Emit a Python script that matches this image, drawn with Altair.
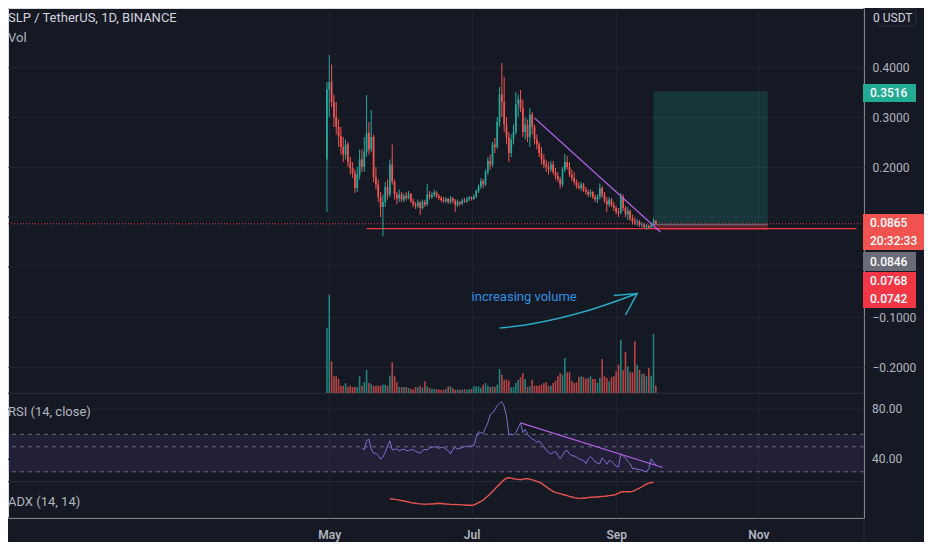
import altair as alt
import pandas as pd
from datetime import datetime, timedelta, timezone

# ---------------- data ----------------
first_day = "2021-04-30"

opens = [0.215, 0.355, 0.37, 0.33, 0.30, 0.28, 0.262, 0.24, 0.225, 0.245,
         0.21, 0.198, 0.188, 0.158, 0.185, 0.215, 0.20, 0.23, 0.268, 0.235,
         0.26, 0.18, 0.165, 0.14, 0.12, 0.13, 0.16, 0.145, 0.205, 0.17,
         0.145, 0.137, 0.145, 0.135, 0.142, 0.138, 0.146, 0.132, 0.125, 0.122,
         0.129, 0.118, 0.13, 0.125, 0.145, 0.14, 0.144, 0.149, 0.142, 0.138,
         0.134, 0.132, 0.136, 0.13, 0.137, 0.133, 0.124, 0.13, 0.127, 0.133,
         0.131, 0.136, 0.139, 0.136, 0.141, 0.152, 0.161, 0.172, 0.165, 0.19,
         0.212, 0.205, 0.245, 0.24, 0.29, 0.345, 0.33, 0.285, 0.26, 0.228,
         0.255, 0.27, 0.325, 0.335, 0.318, 0.27, 0.285, 0.26, 0.305, 0.28,
         0.255, 0.245, 0.228, 0.215, 0.205, 0.2, 0.195, 0.205, 0.19, 0.182,
         0.175, 0.165, 0.195, 0.21, 0.2, 0.185, 0.178, 0.17, 0.162, 0.158,
         0.165, 0.155, 0.15, 0.145, 0.15, 0.14, 0.135, 0.14, 0.158, 0.145,
         0.132, 0.125, 0.135, 0.124, 0.118, 0.11, 0.108, 0.14, 0.118, 0.105,
         0.112, 0.097, 0.092, 0.089, 0.091, 0.084, 0.085, 0.08, 0.082, 0.079,
         0.084, 0.092]
highs = [0.37, 0.424, 0.405, 0.345, 0.33, 0.295, 0.28, 0.26, 0.255, 0.25,
         0.22, 0.21, 0.195, 0.20, 0.235, 0.235, 0.26, 0.344, 0.29, 0.314,
         0.265, 0.20, 0.175, 0.15, 0.145, 0.17, 0.175, 0.215, 0.245, 0.175,
         0.15, 0.155, 0.15, 0.147, 0.15, 0.152, 0.148, 0.137, 0.13, 0.135,
         0.132, 0.135, 0.134, 0.166, 0.152, 0.15, 0.155, 0.152, 0.146, 0.142,
         0.14, 0.14, 0.138, 0.142, 0.14, 0.136, 0.135, 0.132, 0.137, 0.138,
         0.14, 0.142, 0.141, 0.145, 0.155, 0.165, 0.178, 0.176, 0.195, 0.22,
         0.225, 0.25, 0.258, 0.3, 0.36, 0.408, 0.38, 0.30, 0.27, 0.265,
         0.285, 0.35, 0.345, 0.354, 0.335, 0.3, 0.295, 0.318, 0.31, 0.285,
         0.265, 0.25, 0.24, 0.225, 0.215, 0.21, 0.212, 0.212, 0.198, 0.19,
         0.18, 0.2, 0.226, 0.222, 0.21, 0.195, 0.19, 0.175, 0.17, 0.17,
         0.168, 0.16, 0.155, 0.155, 0.152, 0.145, 0.145, 0.167, 0.162, 0.15,
         0.14, 0.14, 0.138, 0.13, 0.122, 0.118, 0.148, 0.145, 0.122, 0.12,
         0.115, 0.105, 0.1, 0.096, 0.094, 0.09, 0.088, 0.086, 0.085, 0.088,
         0.098, 0.094]
lows = [0.11, 0.30, 0.32, 0.28, 0.265, 0.24, 0.225, 0.21, 0.215, 0.20,
        0.185, 0.178, 0.148, 0.15, 0.175, 0.19, 0.19, 0.22, 0.225, 0.23,
        0.17, 0.155, 0.13, 0.10, 0.061, 0.12, 0.135, 0.14, 0.165, 0.135,
        0.125, 0.13, 0.13, 0.13, 0.133, 0.135, 0.128, 0.12, 0.116, 0.118,
        0.104, 0.115, 0.12, 0.122, 0.135, 0.136, 0.14, 0.138, 0.134, 0.13,
        0.128, 0.128, 0.126, 0.126, 0.128, 0.11, 0.12, 0.122, 0.124, 0.128,
        0.128, 0.132, 0.133, 0.134, 0.138, 0.148, 0.156, 0.158, 0.162, 0.185,
        0.195, 0.2, 0.228, 0.236, 0.28, 0.3, 0.27, 0.245, 0.21, 0.22,
        0.245, 0.265, 0.3, 0.31, 0.26, 0.255, 0.25, 0.24, 0.265, 0.245,
        0.235, 0.22, 0.205, 0.198, 0.19, 0.185, 0.19, 0.185, 0.175, 0.17,
        0.157, 0.16, 0.19, 0.195, 0.18, 0.172, 0.165, 0.157, 0.155, 0.152,
        0.15, 0.145, 0.14, 0.14, 0.136, 0.13, 0.128, 0.135, 0.138, 0.128,
        0.11, 0.12, 0.12, 0.112, 0.105, 0.1, 0.105, 0.112, 0.1, 0.094,
        0.092, 0.085, 0.084, 0.082, 0.08, 0.079, 0.077, 0.075, 0.076, 0.077,
        0.08, 0.084]
closes = [0.355, 0.37, 0.33, 0.30, 0.28, 0.262, 0.24, 0.225, 0.245, 0.21,
          0.198, 0.188, 0.158, 0.185, 0.215, 0.20, 0.23, 0.268, 0.235, 0.26,
          0.18, 0.165, 0.14, 0.12, 0.13, 0.16, 0.145, 0.205, 0.17, 0.145,
          0.137, 0.145, 0.135, 0.142, 0.138, 0.146, 0.132, 0.125, 0.122, 0.129,
          0.118, 0.13, 0.125, 0.145, 0.14, 0.144, 0.149, 0.142, 0.138, 0.134,
          0.132, 0.136, 0.13, 0.137, 0.133, 0.124, 0.13, 0.127, 0.133, 0.131,
          0.136, 0.139, 0.136, 0.141, 0.152, 0.161, 0.172, 0.165, 0.19, 0.212,
          0.205, 0.245, 0.24, 0.29, 0.345, 0.33, 0.285, 0.26, 0.228, 0.255,
          0.27, 0.325, 0.335, 0.318, 0.27, 0.285, 0.26, 0.305, 0.28, 0.255,
          0.245, 0.228, 0.215, 0.205, 0.2, 0.195, 0.205, 0.19, 0.182, 0.175,
          0.165, 0.195, 0.21, 0.2, 0.185, 0.178, 0.17, 0.162, 0.158, 0.165,
          0.155, 0.15, 0.145, 0.15, 0.14, 0.135, 0.14, 0.158, 0.145, 0.132,
          0.125, 0.135, 0.124, 0.118, 0.11, 0.108, 0.14, 0.118, 0.105, 0.112,
          0.097, 0.092, 0.089, 0.091, 0.084, 0.085, 0.08, 0.082, 0.079, 0.084,
          0.092, 0.0865]
volumes = [65, 98.3, 31.7, 16.7, 16.7, 14, 7.3, 7.3, 10, 6,
           7.3, 6, 6, 6, 16.7, 7.3, 10.7, 23.3, 10, 9,
           7.3, 7.3, 7.3, 7.3, 8.3, 8.3, 7.3, 17.3, 30.7, 16.7,
           10.7, 6, 6, 6, 6, 5, 4.3, 3.7, 6, 5.7,
           7.3, 5.3, 11.7, 6.7, 5, 4.3, 4, 4, 3.3, 3.3,
           3.3, 4, 6.7, 6.7, 4.7, 3.3, 3.3, 3.3, 3.3, 4,
           3.3, 4, 4, 6.7, 6.7, 6.7, 5.3, 8.3, 10, 7.3,
           6, 6.7, 6, 8.3, 24, 18.3, 13.3, 13.3, 12.3, 5.7,
           6, 10, 13.3, 16, 20, 14, 6, 6.7, 13.3, 7.3,
           7.3, 7.3, 8.3, 10, 10.7, 7.3, 7.3, 10, 12.3, 16.7,
           20, 18.3, 35, 20.7, 20.7, 12.3, 10, 10.7, 16, 16.7,
           16, 14, 15, 16.7, 14, 14, 10, 15, 34, 16.7,
           15, 11.7, 15.7, 16.7, 21.7, 28.3, 53.3, 22.7, 41, 26.7,
           20.7, 20.7, 51.7, 28.3, 23.3, 19.3, 19.3, 16.7, 25, 17.3,
           59, 7.3]

rsi_start = 15
rsi_values = [49, 47.5, 54.8, 56, 48.2, 44.8, 44.8, 43, 40, 41.7,
              45.6, 50.9, 54.8, 47.5, 48, 48.2, 46.9, 47.7, 48.2, 46.9,
              46.9, 47.7, 47.5, 46.4, 45.6, 44.8, 46.9, 48, 47.5, 49,
              49.5, 50.1, 49.5, 48.8, 49.5, 49.5, 48.2, 46.9, 44.3, 48.2,
              49.5, 48.2, 48.8, 49.5, 50.1, 50.4, 50.6, 50.6, 50.9, 57.4,
              62, 61.3, 60.5, 65.2, 69.1, 75.7, 77, 79.6, 83, 84.8,
              86.1, 82.2, 74.4, 59.5, 60, 59.5, 61.3, 65.2, 69.1, 61.3,
              63.9, 60, 57.9, 56.1, 55.3, 53.5, 54.8, 52.2, 50.1, 47.5,
              45.6, 44.3, 45.3, 46.4, 43, 40.4, 43, 46.4, 46.9, 44.3,
              43, 42.7, 41.7, 40.4, 39.6, 39.1, 36.5, 40.4, 42.2, 40.4,
              37.8, 37, 36.5, 41.2, 39.1, 36, 39.1, 38.3, 36.5, 34.5,
              33.9, 44, 43, 41, 38.5, 36.5, 32.6, 32.6, 32, 31.8,
              31.2, 30.5, 30, 32.6, 40.4, 37.8, 35.5]

adx_start = 27
adx_values = [23.4, 23.0, 22.5, 22.1, 21.6, 21.0, 20.5, 19.8, 19.1, 18.4,
              17.9, 17.5, 17.1, 16.8, 16.5, 16.3, 16.4, 16.6, 16.7, 17.0,
              17.3, 17.5, 17.2, 16.9, 16.7, 16.4, 16.1, 15.8, 15.9, 15.8,
              15.8, 15.5, 15.3, 15.0, 15.0, 15.0, 15.4, 16.7, 18.4, 20.0,
              21.7, 24.3, 26.8, 29.7, 32.6, 35.6, 38.9, 41.5, 44.8, 47.3,
              49.4, 49.9, 49.4, 48.6, 48.2, 47.8, 47.3, 48.2, 48.6, 48.6,
              48.2, 47.3, 46.5, 45.2, 44.4, 42.7, 40.6, 38.5, 36.4, 34.3,
              32.6, 31.4, 30.5, 29.7, 28.9, 28.0, 27.2, 26.3, 25.5, 24.7,
              24.2, 23.8, 23.8, 24.2, 24.2, 24.7, 25.1, 25.1, 25.5, 25.5,
              25.9, 26.3, 26.3, 26.8, 27.2, 27.6, 28.0, 28.9, 30.5, 31.8,
              32.2, 32.2, 32.2, 32.2, 32.6, 33.9, 35.6, 36.8, 38.5, 40.2,
              41.9, 43.1, 44.0, 43.6]

price_labels = [-0.2, -0.1, 0.2, 0.3, 0.4]      # visible price-scale labels
price_hidden_ticks = [0.0, 0.1]                  # grid lines whose labels are covered
month_ticks = ["2021-05-01", "2021-07-01", "2021-09-01", "2021-11-01"]
rsi_ticks = [80, 40]
rsi_levels = [60, 50, 30]
rsi_band_top, rsi_band_bottom = 60, 30

support_level = 0.0768
support_from, support_to = "2021-05-17", "2021-12-13"
last_price = 0.0865

target_price, entry_price, stop_price = 0.3516, 0.0846, 0.0742
position_from, position_to = "2021-09-17", "2021-11-05"

price_trend_dates = ["2021-07-28", "2021-09-20"]
price_trend_values = [0.298, 0.070]
rsi_trend_dates = ["2021-07-22", "2021-09-21"]
rsi_trend_values = [69.1, 33.4]

arrow_dates = ["2021-07-13", "2021-07-24", "2021-08-07", "2021-08-20", "2021-08-31", "2021-09-10"]
arrow_prices = [-0.122, -0.116, -0.103, -0.087, -0.070, -0.053]
arrow_head_dates = ["2021-08-31", "2021-09-10", "2021-09-05"]
arrow_head_prices = [-0.057, -0.053, -0.096]
note_text = "increasing volume"
note_date, note_price = "2021-07-01", -0.060

chart_title = "SLP / TetherUS, 1D, BINANCE"
vol_title = "Vol"
rsi_title = "RSI (14, close)"
adx_title = "ADX (14, 14)"
currency_text = "0 USDT"
side_texts = ["0.3516", "0.0865", "20:32:33", "0.0846", "0.0768", "0.0742"]

# ---------------- layout / style ----------------
W, H = 856, 510
PX_PER_DAY = 2.36
MAY1_PX = 320
BG = "#151924"
GRID = "#1e222d"
SEP = "#2a2e39"
TXT = "#b2b5be"
UP, DOWN = "#26a69a", "#ef5350"
FONT = "Roboto"

DAY_MS = 86400000.0


def ms(d):
    return datetime.fromisoformat(d).replace(tzinfo=timezone.utc).timestamp() * 1000


may1 = ms("2021-05-01")
xscale = alt.Scale(type="utc", domain=[may1 - MAY1_PX / PX_PER_DAY * DAY_MS,
                                       may1 + (W - MAY1_PX) / PX_PER_DAY * DAY_MS])
xaxis = alt.Axis(values=[ms(m) for m in month_ticks], labelExpr="utcFormat(datum.value, '%b')",
                 grid=True, gridColor=GRID, domain=False, ticks=False,
                 labelColor=TXT, labelFontSize=12, labelFont=FONT, labelFontWeight=600,
                 labelPadding=11, title=None)
X = alt.X("date:T", scale=xscale, axis=xaxis)

price_scale = alt.Scale(domain=[-0.5, 0.518], range=[509, 0], zero=False, nice=False)
vol_scale = alt.Scale(domain=[0, 100], range=[385, 285], zero=False, nice=False)
rsi_scale = alt.Scale(domain=[0, 100], range=[501.3, 376.3], zero=False, nice=False)
adx_scale = alt.Scale(domain=[0, 60], range=[509.1, 461.8], zero=False, nice=False)

base = datetime.fromisoformat(first_day)
dates = [(base + timedelta(days=i)).strftime("%Y-%m-%d") for i in range(len(closes))]
candles = pd.DataFrame({"date": dates, "open": opens, "high": highs, "low": lows,
                        "close": closes, "volume": volumes})
candles["dir"] = ["up" if c >= o else "down" for o, c in zip(opens, closes)]
rsi_df = pd.DataFrame({"date": dates[rsi_start:rsi_start + len(rsi_values)], "rsi": rsi_values})
adx_df = pd.DataFrame({"date": dates[adx_start:adx_start + len(adx_values)], "adx": adx_values})

dir_color = alt.Color("dir:N", scale=alt.Scale(domain=["up", "down"], range=[UP, DOWN]), legend=None)
one = pd.DataFrame({"k": [0]})

layers = []

# RSI band fill, grid and levels
layers.append(alt.Chart(pd.DataFrame({"hi": [rsi_band_top], "lo": [rsi_band_bottom]})).mark_rect(
    color="#7e57c2", opacity=0.12).encode(
    x=alt.value(0), x2=alt.value(W),
    y=alt.Y("hi:Q", scale=rsi_scale, axis=None), y2="lo:Q"))
layers.append(alt.Chart(pd.DataFrame({"v": rsi_ticks})).mark_rule(color=GRID, strokeWidth=1).encode(
    y=alt.Y("v:Q", scale=rsi_scale, axis=None)))
layers.append(alt.Chart(pd.DataFrame({"v": rsi_levels})).mark_rule(
    color="#6a6d78", strokeDash=[4, 4], strokeWidth=1).encode(
    y=alt.Y("v:Q", scale=rsi_scale, axis=None)))

# hidden-label price grid lines
layers.append(alt.Chart(pd.DataFrame({"v": price_hidden_ticks})).mark_rule(color=GRID, strokeWidth=1).encode(
    y=alt.Y("v:Q", scale=price_scale, axis=None)))

# pane separators
for yy in [385.3, 473.7, 510]:
    layers.append(alt.Chart(one).mark_rule(color=SEP, strokeWidth=1).encode(
        x=alt.value(0), x2=alt.value(W), y=alt.value(yy)))
layers.append(alt.Chart(one).mark_rule(color=SEP, strokeWidth=1).encode(
    x=alt.value(W), y=alt.value(0), y2=alt.value(H + 24)))

# long-position boxes
pos = pd.DataFrame({"date": [position_from, position_from], "d1": [position_to, position_to],
                    "p0": [entry_price, stop_price], "p1": [target_price, entry_price],
                    "kind": ["target", "stop"]})
layers.append(alt.Chart(pos).mark_rect().encode(
    x=X, x2="d1:T",
    y=alt.Y("p0:Q", scale=price_scale, axis=None), y2="p1:Q",
    color=alt.Color("kind:N", scale=alt.Scale(domain=["target", "stop"], range=["#22ab94", "#f23645"]), legend=None),
    opacity=alt.Opacity("kind:N", scale=alt.Scale(domain=["target", "stop"], range=[0.2, 0.32]), legend=None)))
layers.append(alt.Chart(pd.DataFrame({"date": [position_from], "d1": [position_to], "p": [entry_price]})).mark_rule(
    color="#8a8d96", strokeWidth=1, opacity=0.7).encode(
    x=X, x2="d1:T", y=alt.Y("p:Q", scale=price_scale, axis=None)))

# volume
layers.append(alt.Chart(candles).mark_bar(size=1.6, opacity=0.75).encode(
    x=X, y=alt.Y("volume:Q", scale=vol_scale, axis=None), color=dir_color))

# support and last-price lines
layers.append(alt.Chart(pd.DataFrame({"date": [support_from], "d1": [support_to], "p": [support_level]})).mark_rule(
    color="#f23645", strokeWidth=1.2).encode(
    x=X, x2="d1:T", y=alt.Y("p:Q", scale=price_scale, axis=None)))
layers.append(alt.Chart(pd.DataFrame({"p": [last_price]})).mark_rule(
    color="#f23645", strokeDash=[1, 2], strokeWidth=1).encode(
    y=alt.Y("p:Q", scale=price_scale, axis=None)))

# candles (wicks carry the price axis)
price_axis = alt.Axis(orient="right", values=price_labels, format=".4f", grid=True, gridColor=GRID,
                      domain=False, ticks=False, labelColor=TXT, labelFontSize=12, labelFont=FONT,
                      labelPadding=8, labelAlign="left", labelOverlap=False, title=None)
layers.append(alt.Chart(candles).mark_rule(strokeWidth=1).encode(
    x=X, y=alt.Y("low:Q", scale=price_scale, axis=price_axis), y2="high:Q", color=dir_color))
layers.append(alt.Chart(candles).mark_bar(size=1.8).encode(
    x=X, y=alt.Y("open:Q", scale=price_scale, axis=None), y2="close:Q", color=dir_color))

# price trend line
layers.append(alt.Chart(pd.DataFrame({"date": price_trend_dates[:1], "d1": price_trend_dates[1:],
                                      "p0": price_trend_values[:1], "p1": price_trend_values[1:]})).mark_rule(
    color="#b061e0", strokeWidth=1.2).encode(
    x=X, x2="d1:T", y=alt.Y("p0:Q", scale=price_scale, axis=None), y2="p1:Q"))

# RSI and its trend line
layers.append(alt.Chart(rsi_df).mark_line(color="#7e6fd2", strokeWidth=1).encode(
    x=X, y=alt.Y("rsi:Q", scale=rsi_scale, axis=None)))
layers.append(alt.Chart(pd.DataFrame({"date": rsi_trend_dates[:1], "d1": rsi_trend_dates[1:],
                                      "r0": rsi_trend_values[:1], "r1": rsi_trend_values[1:]})).mark_rule(
    color="#b061e0", strokeWidth=1.2).encode(
    x=X, x2="d1:T", y=alt.Y("r0:Q", scale=rsi_scale, axis=None), y2="r1:Q"))

# ADX
layers.append(alt.Chart(adx_df).mark_line(color="#e8534f", strokeWidth=1.4).encode(
    x=X, y=alt.Y("adx:Q", scale=adx_scale, axis=None)))

# volume note and arrow
arrow = pd.DataFrame({"date": arrow_dates, "p": arrow_prices, "o": list(range(len(arrow_dates)))})
layers.append(alt.Chart(arrow).mark_line(color="#2aa7c9", strokeWidth=1.5, interpolate="monotone").encode(
    x=X, y=alt.Y("p:Q", scale=price_scale, axis=None), order="o:Q"))
head = pd.DataFrame({"date": arrow_head_dates, "p": arrow_head_prices, "o": list(range(len(arrow_head_dates)))})
layers.append(alt.Chart(head).mark_line(color="#2aa7c9", strokeWidth=1.5).encode(
    x=X, y=alt.Y("p:Q", scale=price_scale, axis=None), order="o:Q"))
layers.append(alt.Chart(pd.DataFrame({"date": [note_date], "p": [note_price], "t": [note_text]})).mark_text(
    align="left", baseline="middle", color="#2f8fe0", fontSize=13, font=FONT).encode(
    x=X, y=alt.Y("p:Q", scale=price_scale, axis=None), text="t:N"))

# pane titles
for txt, yy, col in [(chart_title, 10, "#d1d4dc"), (vol_title, 30, TXT), (rsi_title, 404, TXT), (adx_title, 494, TXT)]:
    layers.append(alt.Chart(pd.DataFrame({"t": [txt]})).mark_text(
        align="left", baseline="middle", color=col, fontSize=13, font=FONT).encode(
        x=alt.value(0), y=alt.value(yy), text="t:N"))

# RSI scale labels
layers.append(alt.Chart(pd.DataFrame({"v": rsi_ticks})).mark_text(
    align="left", baseline="middle", color=TXT, fontSize=12, font=FONT).encode(
    x=alt.value(W + 8), y=alt.Y("v:Q", scale=rsi_scale, axis=None), text=alt.Text("v:Q", format=".2f")))

# currency badge
layers.append(alt.Chart(one).mark_rect(fill=BG, stroke=SEP, cornerRadius=3).encode(
    x=alt.value(W + 14), x2=alt.value(W + 52), y=alt.value(1), y2=alt.value(18)))
layers.append(alt.Chart(pd.DataFrame({"t": [currency_text]})).mark_text(
    align="left", baseline="middle", color="#d1d4dc", fontSize=12, font=FONT).encode(
    x=alt.value(W + 9), y=alt.value(9.5), text="t:N"))

# price-scale label boxes
boxes = [(76, 94, "#22ab94", [(side_texts[0], 85)], 52),
         (206, 242, "#f05350", [(side_texts[1], 215), (side_texts[2], 233)], 62),
         (244, 263, "#6a6d78", [(side_texts[3], 253.5)], 52),
         (264, 300, "#f23645", [(side_texts[4], 273), (side_texts[5], 291)], 52)]
for y0, y1, col, texts, wd in boxes:
    layers.append(alt.Chart(one).mark_rect(color=col).encode(
        x=alt.value(W - 1), x2=alt.value(W + wd), y=alt.value(y0), y2=alt.value(y1)))
    for t, yy in texts:
        layers.append(alt.Chart(pd.DataFrame({"t": [t]})).mark_text(
            align="left", baseline="middle", color="#ffffff", fontSize=12, font=FONT, fontWeight=500).encode(
            x=alt.value(W + 6), y=alt.value(yy), text="t:N"))

chart = alt.layer(*layers).resolve_scale(y="independent", color="independent", opacity="independent").properties(
    width=W, height=H, background=BG,
    autosize=alt.AutoSizeParams(type="none"),
    padding={"left": 0, "top": 0, "right": 60, "bottom": 24},
).configure_view(stroke=None).configure(font=FONT)

chart.save("out.html", embed_options={"renderer": "svg", "actions": False})
